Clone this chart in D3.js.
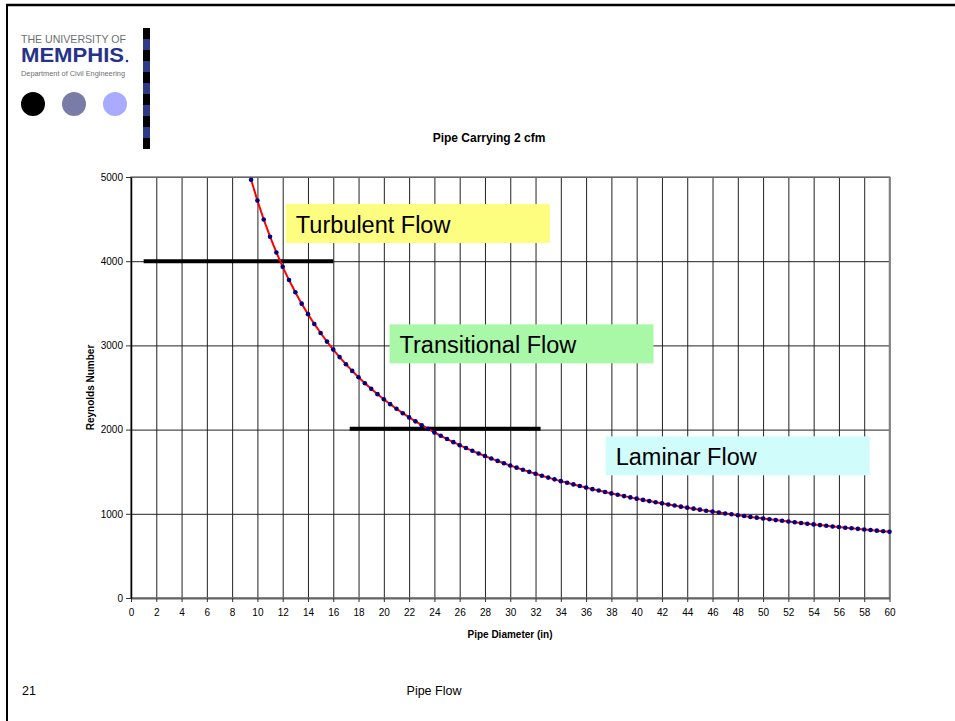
<!DOCTYPE html>
<html lang="en">
<head>
<script src="https://d3js.org/d3.v7.min.js"></script>
<style>
    body { margin: 0; background: #fff; }
    #container { width: 955px; height: 721px; }
    text { font-family: Arial, "Liberation Sans", sans-serif; }
</style>
</head>
<body>
<div id="container"></div>
<script>

    // pipe diameters (in), one point every half inch
    const diameters = [
        9.5, 10, 10.5, 11, 11.5, 12, 12.5, 13, 13.5, 14, 14.5, 15, 15.5, 16, 16.5, 17, 17.5,
        18, 18.5, 19, 19.5, 20, 20.5, 21, 21.5, 22, 22.5, 23, 23.5, 24, 24.5, 25, 25.5, 26,
        26.5, 27, 27.5, 28, 28.5, 29, 29.5, 30, 30.5, 31, 31.5, 32, 32.5, 33, 33.5, 34, 34.5,
        35, 35.5, 36, 36.5, 37, 37.5, 38, 38.5, 39, 39.5, 40, 40.5, 41, 41.5, 42, 42.5, 43,
        43.5, 44, 44.5, 45, 45.5, 46, 46.5, 47, 47.5, 48, 48.5, 49, 49.5, 50, 50.5, 51, 51.5,
        52, 52.5, 53, 53.5, 54, 54.5, 55, 55.5, 56, 56.5, 57, 57.5, 58, 58.5, 59, 59.5, 60
    ];

    // Reynolds number
    const reynolds = [
        4968, 4720, 4495, 4291, 4104, 3933, 3776, 3631, 3496, 3371, 3255, 3147, 3045, 2950, 2861, 2776, 2697,
        2622, 2551, 2484, 2421, 2360, 2302, 2248, 2195, 2145, 2098, 2052, 2009, 1967, 1927, 1888, 1851, 1815,
        1781, 1748, 1716, 1686, 1656, 1628, 1600, 1573, 1548, 1523, 1498, 1475, 1452, 1430, 1409, 1388, 1368,
        1349, 1330, 1311, 1293, 1276, 1259, 1242, 1226, 1210, 1195, 1180, 1165, 1151, 1137, 1124, 1111, 1098,
        1085, 1073, 1061, 1049, 1037, 1026, 1015, 1004, 994, 983, 973, 963, 954, 944, 935, 925, 917,
        908, 899, 891, 882, 874, 866, 858, 850, 843, 835, 828, 821, 814, 807, 800, 793, 787
    ];

    const xTicks = [0, 2, 4, 6, 8, 10, 12, 14, 16, 18, 20, 22, 24, 26, 28, 30, 32, 34, 36, 38,
                    40, 42, 44, 46, 48, 50, 52, 54, 56, 58, 60];
    const yTicks = [0, 1000, 2000, 3000, 4000, 5000];

    // regime boundaries: Reynolds value, diameter span of the black bar
    const boundaryRe = [4000, 2010];
    const boundaryFrom = [1, 17.3];
    const boundaryTo = [16, 32.4];

    const regimes = ["Turbulent Flow", "Transitional Flow", "Laminar Flow"];
    const regimeColours = ["#fdfd80", "#a8f8a8", "#d0fcfc"];
    // label boxes in data units: [left D, top Re]
    const regimeBox = [[12.25, 4680], [20.45, 3250], [37.55, 1920]];

    const svg = d3.select("#container")
        .append("svg")
        .attr("width", 955)
        .attr("height", 721);

    // ---- slide frame and logo ----
    svg.append("line").attr("x1", 6).attr("x2", 955).attr("y1", 5).attr("y2", 5)
        .attr("stroke", "#000").attr("stroke-width", 2.5);
    svg.append("line").attr("x1", 7).attr("x2", 7).attr("y1", 4).attr("y2", 721)
        .attr("stroke", "#000").attr("stroke-width", 2);

    svg.append("text").attr("x", 21).attr("y", 43).text("THE UNIVERSITY OF")
        .attr("font-size", 10.5).attr("fill", "#6d6e71")
        .attr("textLength", 105).attr("lengthAdjust", "spacingAndGlyphs");
    svg.append("text").attr("x", 21).attr("y", 62).text("MEMPHIS")
        .attr("font-size", 20).attr("font-weight", 600).attr("fill", "#26338a")
        .attr("textLength", 103).attr("lengthAdjust", "spacingAndGlyphs");
    svg.append("circle").attr("cx", 127).attr("cy", 61).attr("r", 1.3).attr("fill", "#26338a");
    svg.append("text").attr("x", 21).attr("y", 76).text("Department of Civil Engineering")
        .attr("font-size", 8).attr("fill", "#6d6e71")
        .attr("textLength", 104).attr("lengthAdjust", "spacingAndGlyphs");

    const dots = [["#000000", 33], ["#7a7ca8", 74], ["#a9abff", 115]];
    svg.selectAll(".logoDot").data(dots).enter().append("circle")
        .attr("cx", d => d[1]).attr("cy", 104).attr("r", 12).attr("fill", d => d[0]);

    svg.selectAll(".stripe").data(d3.range(11)).enter().append("rect")
        .attr("x", 143).attr("y", i => 28 + i * 11).attr("width", 7).attr("height", 11)
        .attr("fill", i => i % 2 ? "#2e3a88" : "#000");

    // ---- chart ----
    const x = d3.scaleLinear().domain([0, 60]).range([131, 889.5]);
    const y = d3.scaleLinear().domain([0, 5000]).range([598, 177]);

    svg.append("text").attr("x", 489).attr("y", 142).attr("text-anchor", "middle")
        .attr("font-size", 12).attr("font-weight", "bold").text("Pipe Carrying 2 cfm");

    // gridlines
    svg.append("g")
        .attr("transform", "translate(0," + y(0) + ")")
        .call(d3.axisBottom(x).tickValues(xTicks).tickSize(-(y(0) - y(5000))).tickFormat(""))
        .call(g => g.select(".domain").remove())
        .selectAll("line").attr("stroke", "#222");
    svg.append("g")
        .attr("transform", "translate(" + x(0) + ",0)")
        .call(d3.axisLeft(y).tickValues(yTicks).tickSize(-(x(60) - x(0))).tickFormat(""))
        .call(g => g.select(".domain").remove())
        .selectAll("line").attr("stroke", "#222");

    svg.append("rect")
        .attr("x", x(0)).attr("y", y(5000))
        .attr("width", x(60) - x(0)).attr("height", y(0) - y(5000))
        .attr("fill", "none").attr("stroke", "#7f7f7f").attr("stroke-width", 1.5);

    // axes
    const xAxis = svg.append("g")
        .attr("transform", "translate(0," + y(0) + ")")
        .call(d3.axisBottom(x).tickValues(xTicks).tickSize(4).tickSizeOuter(0).tickPadding(7));
    xAxis.select(".domain").attr("stroke", "#666").attr("stroke-width", 2);
    xAxis.selectAll("line").attr("stroke", "#333");
    xAxis.selectAll("text").attr("font-size", 10).attr("font-family", "Arial").attr("fill", "#000");

    const yAxis = svg.append("g")
        .attr("transform", "translate(" + x(0) + ",0)")
        .call(d3.axisLeft(y).tickValues(yTicks).tickFormat(d3.format("d"))
            .tickSize(5).tickSizeOuter(0).tickPadding(3));
    yAxis.select(".domain").attr("stroke", "#000").attr("stroke-width", 1.5);
    yAxis.selectAll("line").attr("stroke", "#333");
    yAxis.selectAll("text").attr("font-size", 10).attr("font-family", "Arial").attr("fill", "#000");

    svg.append("text").attr("x", 510).attr("y", 638).attr("text-anchor", "middle")
        .attr("font-size", 10).attr("font-weight", "bold").text("Pipe Diameter (in)");
    svg.append("text")
        .attr("transform", "translate(94," + ((y(0) + y(5000)) / 2) + ") rotate(-90)")
        .attr("text-anchor", "middle")
        .attr("font-size", 10).attr("font-weight", "bold").text("Reynolds Number");

    // regime boundary bars
    svg.selectAll(".boundary").data(boundaryRe).enter().append("line")
        .attr("x1", (d, i) => x(boundaryFrom[i])).attr("x2", (d, i) => x(boundaryTo[i]))
        .attr("y1", d => y(d)).attr("y2", d => y(d))
        .attr("stroke", "#000").attr("stroke-width", 4);

    // regime labels
    const lab = svg.selectAll(".regime").data(regimes).enter().append("g");
    lab.append("rect")
        .attr("x", (d, i) => x(regimeBox[i][0])).attr("y", (d, i) => y(regimeBox[i][1]))
        .attr("width", 264).attr("height", 39)
        .attr("fill", (d, i) => regimeColours[i]);
    lab.append("text")
        .attr("x", (d, i) => x(regimeBox[i][0]) + 10).attr("y", (d, i) => y(regimeBox[i][1]) + 29)
        .attr("font-size", 23.5).attr("fill", "#000").text(d => d);

    // Reynolds curve
    const pts = diameters.map((d, i) => [d, reynolds[i]]);
    svg.append("path")
        .datum(pts)
        .attr("fill", "none").attr("stroke", "#ff0000").attr("stroke-width", 2)
        .attr("d", d3.line().x(d => x(d[0])).y(d => y(d[1])));
    svg.selectAll(".pt").data(pts).enter().append("circle")
        .attr("cx", d => x(d[0])).attr("cy", d => y(d[1])).attr("r", 2.3)
        .attr("fill", "#000080");

    // footer
    svg.append("text").attr("x", 22).attr("y", 695).text("21")
        .attr("font-family", "DejaVu Sans Condensed").attr("font-size", 12.5);
    svg.append("text").attr("x", 434).attr("y", 695).attr("text-anchor", "middle").text("Pipe Flow")
        .attr("font-family", "DejaVu Sans Condensed").attr("font-size", 12.5);

</script>
</body>
</html>
